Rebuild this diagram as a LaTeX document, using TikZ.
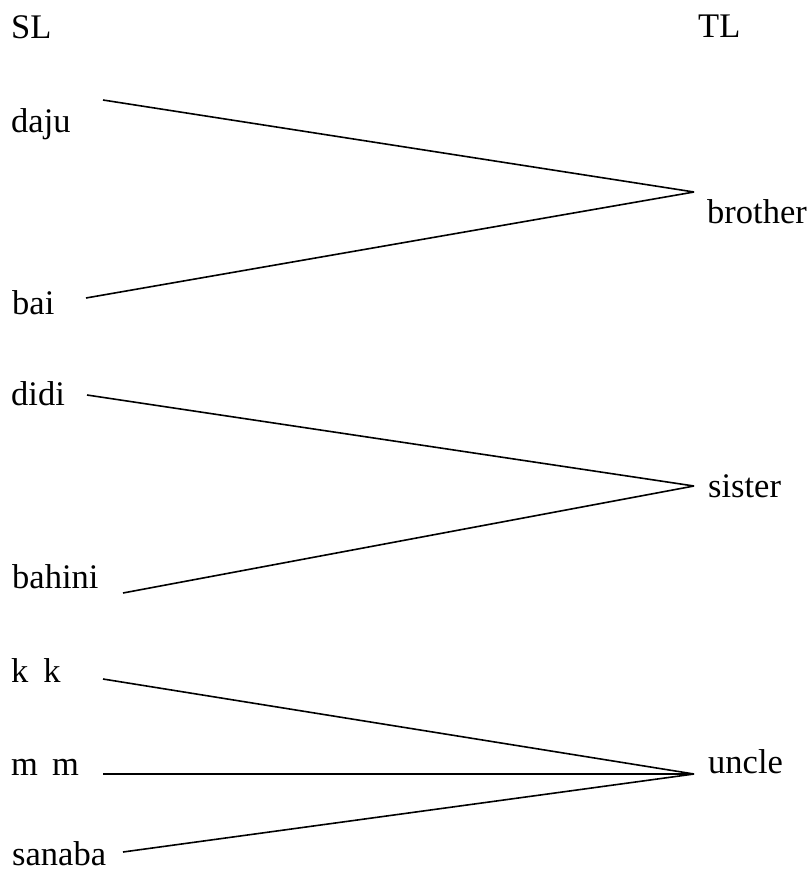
\documentclass[tikz,border=0pt]{standalone}
\usepackage{fontspec}
\setmainfont{Liberation Serif}
\begin{document}
\begin{tikzpicture}[x=1pt,y=-1pt,
  word/.style={inner sep=0pt,anchor=base west,font=\fontsize{34.5}{40}\selectfont},
  link/.style={line width=1.6pt}]
\useasboundingbox (0,0) rectangle (808,880);
% headings
\node[word] (sl) at (11,39) {SL};
\node[word] (tl) at (698,38) {TL};
% source words
\node[word] (daju) at (11,132) {daju};
\node[word] (bai) at (12,314) {bai};
\node[word] (didi) at (11,405) {didi};
\node[word] (bahini) at (12,588) {bahini};
\node[word] (kk) at (11,682) {k\hspace{15pt}k};
\node[word] (mm) at (11,775) {m\hspace{14pt}m};
\node[word] (sanaba) at (12,865) {sanaba};
% target words
\node[word] (brother) at (707,223) {brother};
\node[word] (sister) at (708,497) {sister};
\node[word] (uncle) at (708,773) {uncle};
% line ends
\coordinate (daju-e) at (103,100);
\coordinate (bai-e) at (86,298);
\coordinate (didi-e) at (87,395);
\coordinate (bahini-e) at (123,593);
\coordinate (kk-e) at (103,679);
\coordinate (mm-e) at (103,774);
\coordinate (sanaba-e) at (123,852);
\coordinate (brother-w) at (694,192);
\coordinate (sister-w) at (694,486);
\coordinate (uncle-w) at (694,774);
% connectors
\draw[link] (daju-e) -- (brother-w);
\draw[link] (bai-e) -- (brother-w);
\draw[link] (didi-e) -- (sister-w);
\draw[link] (bahini-e) -- (sister-w);
\draw[link] (kk-e) -- (uncle-w);
\draw[link] (mm-e) -- (uncle-w);
\draw[link] (sanaba-e) -- (uncle-w);
\end{tikzpicture}
\end{document}
